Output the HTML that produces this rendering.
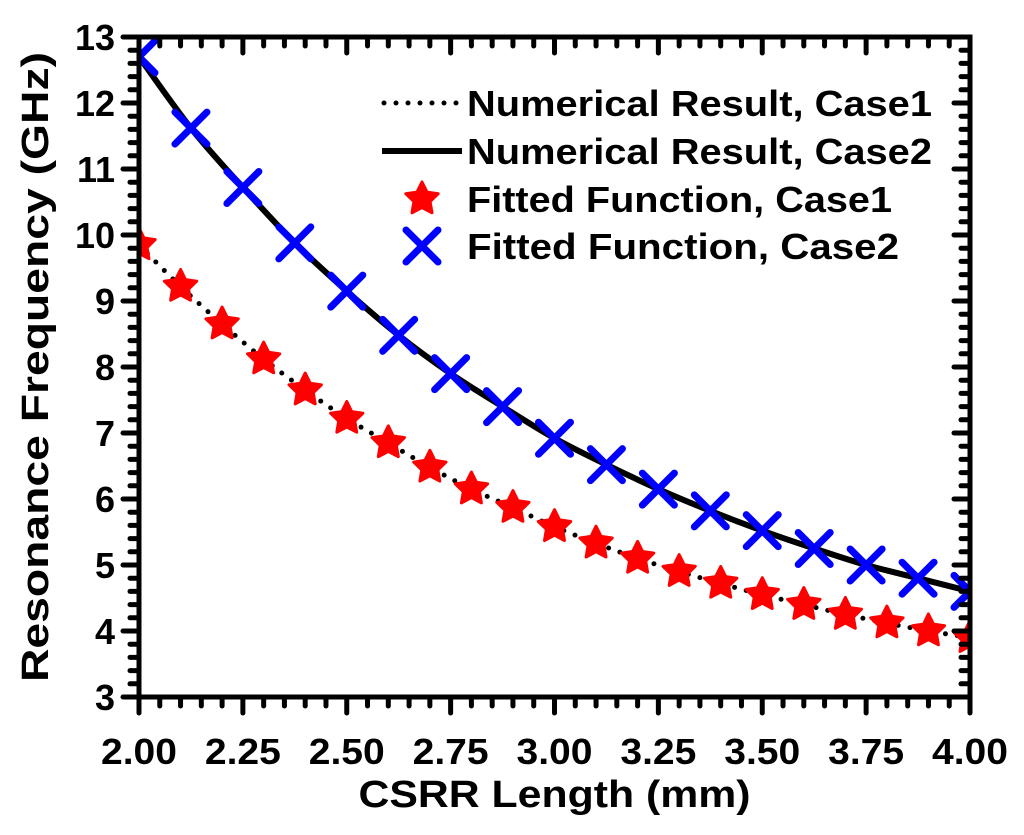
<!DOCTYPE html>
<html><head><meta charset="utf-8"><style>
body{margin:0;background:#fff;width:1024px;height:830px;overflow:hidden}
text{font-family:"Liberation Sans",sans-serif;font-weight:bold;fill:#000}
</style></head><body>
<svg id="chart" width="1024" height="830" xmlns="http://www.w3.org/2000/svg"></svg>
<script>
const xCase1=[2.0,2.1,2.2,2.3,2.4,2.5,2.6,2.7,2.8,2.9,3.0,3.1,3.2,3.3,3.4,3.5,3.6,3.7,3.8,3.9,4.0];
const yCase1=[9.85,9.22,8.65,8.12,7.65,7.22,6.85,6.48,6.15,5.87,5.58,5.33,5.1,4.9,4.72,4.55,4.4,4.25,4.12,4.0,3.9];
const xCase2=[2.0,2.125,2.25,2.375,2.5,2.625,2.75,2.875,3.0,3.125,3.25,3.375,3.5,3.625,3.75,3.875,4.0];
const yCase2=[12.7,11.62,10.72,9.88,9.15,8.48,7.9,7.4,6.92,6.52,6.15,5.82,5.52,5.25,5.0,4.8,4.6];
const xTicks=["2.00","2.25","2.50","2.75","3.00","3.25","3.50","3.75","4.00"];
const yTicks=["3","4","5","6","7","8","9","10","11","12","13"];
const legendLabels=["Numerical Result, Case1","Numerical Result, Case2","Fitted Function, Case1","Fitted Function, Case2"];

const L=139,R=970,T=37,B=697;
const sx=v=>L+(v-2)/2*(R-L);
const sy=v=>B-(v-3)/10*(B-T);
const svg=document.getElementById('chart');
const NS='http://www.w3.org/2000/svg';
function mk(tag,attrs,name,parent){const e=document.createElementNS(NS,tag);for(const k in attrs)e.setAttribute(k,attrs[k]);


(parent||svg).appendChild(e);return e;}
const clip=mk('clipPath',{id:'pc'},'plot-clip');
mk('rect',{x:L,y:T,width:R-L,height:B-T},'plot-clip-rect',clip);
const plot=mk('g',{'clip-path':'url(#pc)'},'plot-area');
for(let i=0;i<=40;i++){const v=2+i*0.05,x=sx(v),maj=i%5==0;
mk('line',{x1:x,x2:x,y1:B,y2:B+(maj?16:9),stroke:'#000','stroke-width':5,'stroke-linecap':'round'},'x-tick');
mk('line',{x1:x,x2:x,y1:T,y2:T+(maj?16:9),stroke:'#000','stroke-width':5,'stroke-linecap':'round'},'x-tick-top');}
for(let i=0;i<=50;i++){const v=3+i*0.2,y=sy(v),maj=i%5==0;
mk('line',{x1:L,x2:L-(maj?16:9),y1:y,y2:y,stroke:'#000','stroke-width':5,'stroke-linecap':'round'},'y-tick');
mk('line',{x1:R,x2:R-(maj?16:9),y1:y,y2:y,stroke:'#000','stroke-width':5,'stroke-linecap':'round'},'y-tick-right');}
mk('rect',{x:L,y:T,width:R-L,height:B-T,fill:'none',stroke:'#000','stroke-width':5},'plot-frame');
xTicks.forEach((t,i)=>{const e=mk('text',{x:sx(2+i*0.25),y:B+67,'font-size':36,'text-anchor':'middle',textLength:76,lengthAdjust:'spacingAndGlyphs'},'x-tick-label');e.textContent=t;});
yTicks.forEach((t,i)=>{const e=mk('text',{x:L-24,y:sy(3+i)+13,'font-size':36,'text-anchor':'end'},'y-tick-label');e.textContent=t;});
let e=mk('text',{x:(L+R)/2,y:807,'font-size':38,'text-anchor':'middle',textLength:392,lengthAdjust:'spacingAndGlyphs'},'x-axis-title');e.textContent='CSRR Length (mm)';
e=mk('text',{x:0,y:0,'font-size':38,'text-anchor':'middle',textLength:630,lengthAdjust:'spacingAndGlyphs',transform:`translate(48,${(T+B)/2}) rotate(-90)`},'y-axis-title');e.textContent='Resonance Frequency (GHz)';
function curve(xs,ys){const p=xs.map((x,i)=>[sx(x),sy(ys[i])]);let d=`M${p[0][0]},${p[0][1]}`;
for(let i=0;i<p.length-1;i++){const p0=p[i-1]||p[i],p1=p[i],p2=p[i+1],p3=p[i+2]||p2;
d+=` C${p1[0]+(p2[0]-p0[0])/6},${p1[1]+(p2[1]-p0[1])/6} ${p2[0]-(p3[0]-p1[0])/6},${p2[1]-(p3[1]-p1[1])/6} ${p2[0]},${p2[1]}`;}return d;}
mk('path',{d:curve(xCase1,yCase1),fill:'none',stroke:'#000','stroke-width':5,'stroke-dasharray':'0 12','stroke-linecap':'round'},'line-case1',plot);
mk('path',{d:curve(xCase2,yCase2),fill:'none',stroke:'#000','stroke-width':6},'line-case2',plot);
function star(cx,cy,r){let pts=[];for(let k=0;k<10;k++){const a=-Math.PI/2+k*Math.PI/5,rr=k%2?r*0.5:r;pts.push((cx+rr*Math.cos(a)).toFixed(1)+','+(cy+rr*Math.sin(a)).toFixed(1));}return pts.join(' ');}
xCase1.forEach((x,i)=>mk('polygon',{points:star(sx(x),sy(yCase1[i]),17),fill:'#f00',stroke:'#f00','stroke-width':3,'stroke-linejoin':'round'},'marker-case1',plot));
xCase2.forEach((x,i)=>{const cx=sx(x),cy=sy(yCase2[i]),s=16;
mk('path',{d:`M${cx-s},${cy-s}L${cx+s},${cy+s}M${cx-s},${cy+s}L${cx+s},${cy-s}`,stroke:'#00f','stroke-width':7,'stroke-linecap':'round'},'marker-case2',plot);});
const ly=[103,151,199,246];
mk('line',{x1:384,x2:458,y1:ly[0],y2:ly[0],stroke:'#000','stroke-width':5,'stroke-dasharray':'0 12','stroke-linecap':'round'},'legend-line-case1');
mk('line',{x1:382,x2:462,y1:ly[1],y2:ly[1],stroke:'#000','stroke-width':6},'legend-line-case2');
mk('polygon',{points:star(422,ly[2],17),fill:'#f00',stroke:'#f00','stroke-width':3,'stroke-linejoin':'round'},'legend-marker-case1');
mk('path',{d:`M406,${ly[3]-16}L438,${ly[3]+16}M406,${ly[3]+16}L438,${ly[3]-16}`,stroke:'#00f','stroke-width':7,'stroke-linecap':'round'},'legend-marker-case2');
const legendW=[465,465,425,432];
legendLabels.forEach((t,i)=>{const e=mk('text',{x:467,y:ly[i]+13,'font-size':36,textLength:legendW[i],lengthAdjust:'spacingAndGlyphs'},'legend-label');e.textContent=t;});
</script>
</body></html>
